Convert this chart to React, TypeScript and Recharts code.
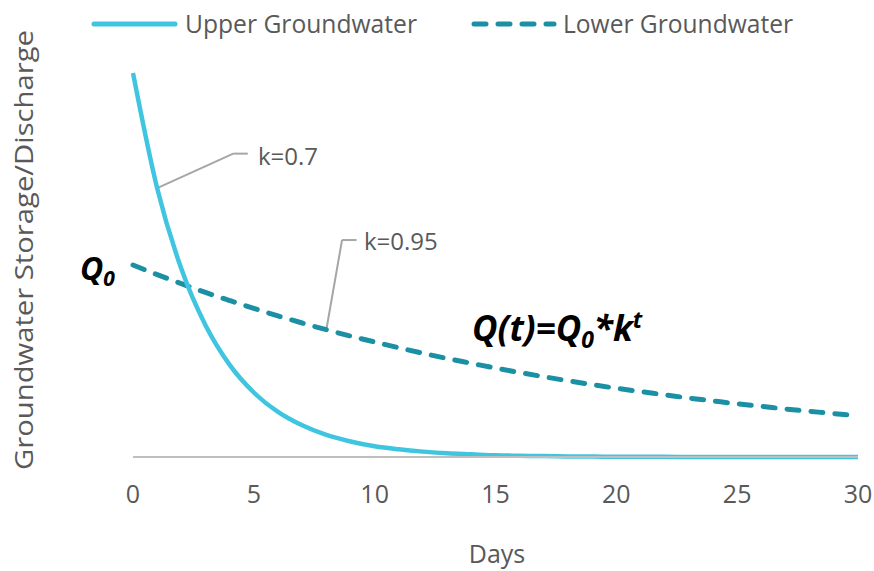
import { Line, LineChart, ReferenceLine, XAxis, YAxis } from 'recharts'

// values (upper Q0 = 2, lower Q0 = 1)
const days = [0, 1, 2, 3, 4, 5, 6, 7, 8, 9, 10, 11, 12, 13, 14, 15, 16, 17, 18, 19, 20, 21, 22, 23, 24, 25, 26, 27, 28, 29, 30]
const upper = [2.0, 1.4, 0.98, 0.686, 0.48, 0.336, 0.235, 0.165, 0.115, 0.081, 0.056, 0.04, 0.028, 0.019, 0.014, 0.009, 0.0066, 0.0046, 0.0032, 0.0023, 0.0016, 0.0011, 0.0008, 0.0005, 0.0004, 0.0003, 0.0002, 0.0001, 0.0001, 0.0001, 0]
const lower = [1.0, 0.95, 0.903, 0.857, 0.815, 0.774, 0.735, 0.698, 0.663, 0.63, 0.599, 0.569, 0.54, 0.513, 0.488, 0.463, 0.44, 0.418, 0.397, 0.377, 0.358, 0.341, 0.324, 0.307, 0.292, 0.277, 0.264, 0.25, 0.238, 0.226, 0.215]
const xTicks = [0, 5, 10, 15, 20, 25, 30]
const seriesNames = ['Upper Groundwater', 'Lower Groundwater']

const data = days.map((d, i) => ({ day: d, upper: upper[i], lower: lower[i] }))

const UPPER = '#3fc5e0'
const LOWER = '#1b90a5'
const GREY = '#595959'
const LEADER = '#a6a6a6'
const FONT = '"Open Sans", "Noto Sans", sans-serif'

export default function App() {
  return (
    <div style={{ position: 'absolute', left: 0, top: 0, width: 874, height: 571, background: '#fff' }}>
      <LineChart width={874} height={571} data={data} margin={{ top: 73, right: 16, left: 133, bottom: 74 }}>
        <XAxis
          dataKey="day"
          type="number"
          domain={[0, 30]}
          ticks={xTicks}
          height={40}
          tickLine={false}
          tickSize={0}
          tickMargin={28}
          axisLine={{ stroke: '#bfbfbf', strokeWidth: 2 }}
          tick={{ fill: GREY, fontSize: 25, fontFamily: FONT }}
        />
        <YAxis hide domain={[0, 2]} />
        <ReferenceLine segment={[{ x: 1, y: 1.4 }, { x: 4.15, y: 1.58 }]} stroke={LEADER} strokeWidth={2} ifOverflow="visible" />
        <ReferenceLine segment={[{ x: 4.15, y: 1.58 }, { x: 4.75, y: 1.58 }]} stroke={LEADER} strokeWidth={2} ifOverflow="visible" />
        <ReferenceLine segment={[{ x: 8, y: 0.663 }, { x: 8.65, y: 1.13 }]} stroke={LEADER} strokeWidth={2} ifOverflow="visible" />
        <ReferenceLine segment={[{ x: 8.65, y: 1.13 }, { x: 9.25, y: 1.13 }]} stroke={LEADER} strokeWidth={2} ifOverflow="visible" />
        <Line
          type="monotone"
          dataKey="lower"
          name={seriesNames[1]}
          stroke={LOWER}
          strokeWidth={5}
          strokeDasharray="12 12"
          strokeLinecap="round"
          dot={false}
          isAnimationActive={false}
        />
        <Line
          type="monotone"
          dataKey="upper"
          name={seriesNames[0]}
          stroke={UPPER}
          strokeWidth={4.5}
          dot={false}
          isAnimationActive={false}
        />
      </LineChart>
      <svg width={874} height={571} style={{ position: 'absolute', left: 0, top: 0, pointerEvents: 'none' }}>
        {/* legend */}
        <line x1={94} y1={24} x2={175} y2={24} stroke={UPPER} strokeWidth={5} strokeLinecap="round" />
        <text x={185} y={33} fontSize={25} fill={GREY} fontFamily={FONT} textLength={232} lengthAdjust="spacingAndGlyphs">
          {seriesNames[0]}
        </text>
        <line x1={474} y1={24} x2={554} y2={24} stroke={LOWER} strokeWidth={5} strokeLinecap="round" strokeDasharray="12 12" />
        <text x={563} y={33} fontSize={25} fill={GREY} fontFamily={FONT} textLength={230} lengthAdjust="spacingAndGlyphs">
          {seriesNames[1]}
        </text>

        {/* annotations */}
        <text x={258} y={165} fontSize={24} fill={GREY} fontFamily={FONT}>k=0.7</text>
        <text x={364} y={250} fontSize={24} fill={GREY} fontFamily={FONT}>k=0.95</text>
        <text x={80} y={280} fontSize={32} fontWeight="bold" fontStyle="italic" fill="#000" fontFamily={FONT}>
          Q<tspan fontSize={21} dy={6}>0</tspan>
        </text>
        <text x={472} y={341} fontSize={35} fontWeight="bold" fontStyle="italic" fill="#000" fontFamily={FONT}>
          Q(t)=Q<tspan fontSize={23} dy={7}>0</tspan>
          <tspan dy={-7}>*k</tspan>
          <tspan fontSize={23} dy={-13}>t</tspan>
        </text>

        {/* axis titles */}
        <text
          x={0}
          y={0}
          transform="translate(33 250) rotate(-90)"
          textAnchor="middle"
          fontSize={25}
          fill={GREY}
          fontFamily={FONT}
          textLength={440}
          lengthAdjust="spacingAndGlyphs"
        >
          Groundwater Storage/Discharge
        </text>
        <text x={497} y={563} textAnchor="middle" fontSize={25} fill={GREY} fontFamily={FONT}>Days</text>
      </svg>
    </div>
  )
}
